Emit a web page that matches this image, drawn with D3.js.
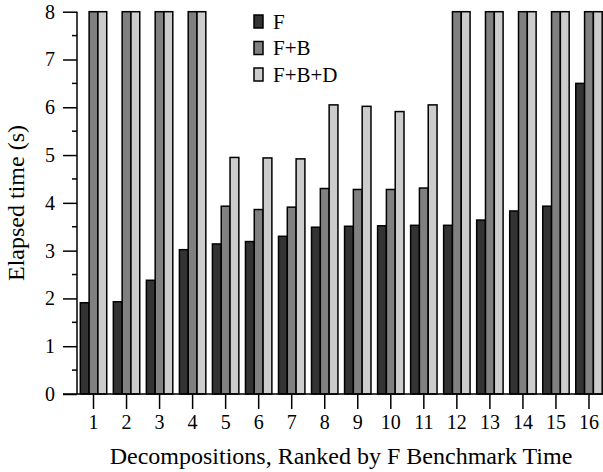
<!DOCTYPE html>
<html><head><meta charset="utf-8">
<script src="https://d3js.org/d3.v7.min.js"></script>
<style>body{margin:0;background:#fff}svg{display:block}</style>
</head><body><div id="chart"></div>
<script>
const categories = ["1","2","3","4","5","6","7","8","9","10","11","12","13","14","15","16"];
const seriesNames = ["F","F+B","F+B+D"];
const valuesF = [1.91,1.93,2.38,3.02,3.14,3.19,3.30,3.49,3.51,3.52,3.53,3.53,3.64,3.83,3.93,6.50];
const valuesFB = [8,8,8,8,3.93,3.86,3.91,4.30,4.28,4.28,4.31,8,8,8,8,8];
const valuesFBD = [8,8,8,8,4.95,4.94,4.92,6.05,6.02,5.91,6.05,8,8,8,8,8];
const yTicks = [0,1,2,3,4,5,6,7,8];
const colors = ["#333333","#808080","#cccccc"];

const W = 603, H = 472;
const FONT = "'Liberation Serif'";
const svg = d3.select("#chart").append("svg").attr("width", W).attr("height", H);
const series = [valuesF, valuesFB, valuesFBD];

const x = d3.scaleBand().domain(categories).range([77, 605.5]).paddingInner(0.2).paddingOuter(0.1);
const xs = d3.scaleBand().domain(seriesNames).range([0, x.bandwidth()]);
const y = d3.scaleLinear().domain([0, 8]).range([394, 11.7]);

const data = categories.map((c, i) => ({c, vals: seriesNames.map((s, j) => ({s, v: series[j][i], j}))}));

svg.append("g").selectAll("g.grp").data(data).join("g").attr("class","grp")
  .attr("transform", d => `translate(${x(d.c)},0)`)
  .selectAll("rect").data(d => d.vals).join("rect")
  .attr("x", d => xs(d.s)).attr("width", xs.bandwidth())
  .attr("y", d => y(d.v)).attr("height", d => y(0) - y(d.v))
  .attr("fill", d => colors[d.j]).attr("stroke", "#000").attr("stroke-width", 1.5);

// y axis
const yAxis = d3.axisLeft(y).tickValues(yTicks).tickSize(14).tickPadding(8).tickFormat(d3.format("d"));
const ya = svg.append("g").attr("transform", "translate(77,0)").call(yAxis);
ya.select(".domain").attr("stroke-width", 1.5).attr("d", `M0,${y(8)}V${y(0)}`);
ya.selectAll(".tick line").attr("stroke-width", 1.5);
ya.selectAll("text").attr("font-family", FONT).attr("font-size", 20);
// minor ticks
const minor = d3.range(0.5, 8, 1);
svg.append("g").selectAll("line").data(minor).join("line")
  .attr("x1", 72).attr("x2", 77).attr("y1", d => y(d)).attr("y2", d => y(d))
  .attr("stroke", "#000").attr("stroke-width", 1.5);

// x axis
const xAxis = d3.axisBottom(x).tickSize(15).tickPadding(6).tickSizeOuter(0);
const xa = svg.append("g").attr("transform", `translate(0,${y(0)})`).call(xAxis);
xa.select(".domain").attr("stroke-width", 1.5).attr("d", `M63,0H603`);
xa.selectAll(".tick line").attr("stroke-width", 1.5);
xa.selectAll("text").attr("font-family", FONT).attr("font-size", 20);

// axis titles
svg.append("text").attr("x", 341).attr("y", 464).attr("text-anchor", "middle")
  .attr("font-family", FONT).attr("font-size", 24).text("Decompositions, Ranked by F Benchmark Time");
svg.append("text").attr("transform", "translate(24,203) rotate(-90)").attr("text-anchor", "middle")
  .attr("font-family", FONT).attr("font-size", 24).text("Elapsed time (s)");

// legend
const lg = svg.append("g").selectAll("g").data(seriesNames).join("g")
  .attr("transform", (d, i) => `translate(254,${15 + i * 26.5})`);
lg.append("rect").attr("width", 9).attr("height", 13)
  .attr("fill", (d, i) => colors[i]).attr("stroke", "#000").attr("stroke-width", 1.5);
lg.append("text").attr("x", 19).attr("y", 13.5).attr("font-family", FONT).attr("font-size", 21).text(d => d);
</script></body></html>
